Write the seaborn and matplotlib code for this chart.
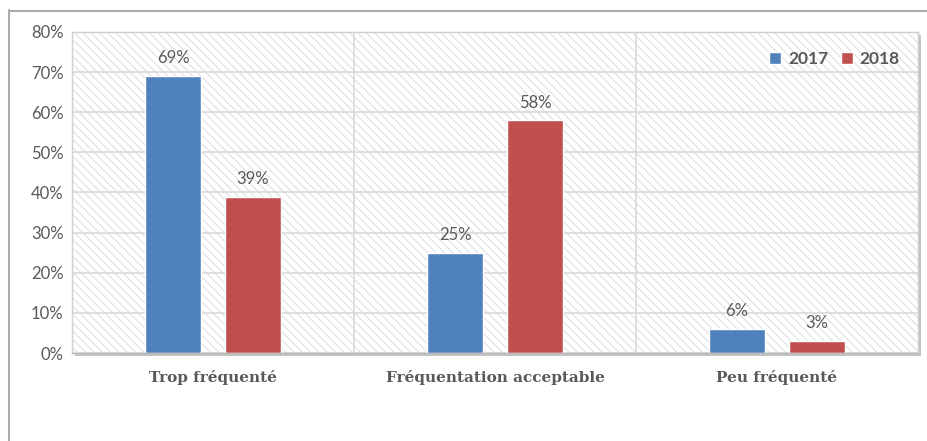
import matplotlib

matplotlib.use("Agg")

import matplotlib.pyplot as plt
import pandas as pd
import seaborn as sns
from matplotlib.lines import Line2D
from matplotlib.patches import Rectangle
from matplotlib.ticker import FuncFormatter

CATEGORIES = ["Trop fréquenté", "Fréquentation acceptable", "Peu fréquenté"]
YEARS = ["2017", "2018"]
VALUES_2017 = [69, 25, 6]
VALUES_2018 = [39, 58, 3]
Y_TICKS = [0, 10, 20, 30, 40, 50, 60, 70, 80]

COLORS = {"2017": "#4F81BD", "2018": "#C0504D"}
TEXT = "#595959"
GRID = "#d9d9d9"

W, H = 928, 441

sns.set_theme(style="white")
plt.rcParams["font.family"] = ["Lato", "DejaVu Sans"]
plt.rcParams["hatch.linewidth"] = 0.6

df = pd.DataFrame(
    {
        "categorie": CATEGORIES * 2,
        "annee": [YEARS[0]] * len(CATEGORIES) + [YEARS[1]] * len(CATEGORIES),
        "valeur": VALUES_2017 + VALUES_2018,
    }
)

fig = plt.figure(figsize=(W / 100, H / 100), dpi=100)
x0, x1, y0, y1 = 72, 918, 353, 32
ax = fig.add_axes([x0 / W, 1 - y0 / H, (x1 - x0) / W, (y0 - y1) / H])

# drop shadow behind the plot area
fig.patches.append(
    Rectangle(((x0 + 3) / W, 1 - (y0 + 3) / H), (x1 - x0) / W, (y0 - y1) / H,
              transform=fig.transFigure, facecolor="#c4c4c4", edgecolor="none", zorder=-1)
)
# outer chart frame (left and top edges visible)
fig.add_artist(Line2D([9.5 / W, 9.5 / W], [0, 1 - 10 / H], color="#ababab", lw=1.5))
fig.add_artist(Line2D([9 / W, 1], [1 - 10.5 / H, 1 - 10.5 / H], color="#ababab", lw=1.5))

# hatched plot background
ax.add_patch(Rectangle((0, 0), 1, 1, transform=ax.transAxes, facecolor="white",
                       edgecolor="#d6d6d6", hatch="\\\\\\\\", linewidth=0, zorder=0))

sns.barplot(data=df, x="categorie", y="valeur", hue="annee", order=CATEGORIES,
            hue_order=YEARS, palette=COLORS, width=0.567, gap=0.31,
            saturation=1, ax=ax, zorder=2)

for container in ax.containers:
    ax.bar_label(container, labels=[f"{v:.0f}%" for v in container.datavalues],
                 padding=7, fontsize=12, color=TEXT)

ax.set_ylim(0, 80)
ax.set_xlim(-0.5, len(CATEGORIES) - 0.5)
ax.set_yticks(Y_TICKS)
ax.yaxis.set_major_formatter(FuncFormatter(lambda v, _: f"{v:.0f}%"))
ax.grid(axis="y", color=GRID, lw=1.2)
ax.set_axisbelow(True)
for pos in [0.5, 1.5]:
    ax.axvline(pos, color=GRID, lw=1.2, zorder=1)

ax.tick_params(axis="y", length=0, pad=6, labelsize=12, labelcolor=TEXT)
ax.tick_params(axis="x", length=0, pad=12)
ax.set_xticks(range(len(CATEGORIES)))
ax.set_xticklabels(CATEGORIES, family="DejaVu Serif", fontweight="bold",
                   fontsize=11, color=TEXT)
ax.set_xlabel("")
ax.set_ylabel("")

for side, spine in ax.spines.items():
    spine.set_visible(True)
    spine.set_color("#d0d0d0")
    spine.set_linewidth(1.0)
ax.spines["bottom"].set_color("#b8b8b8")

leg = ax.legend(loc="upper right", bbox_to_anchor=(0.997, 0.99), ncol=2, frameon=False,
                handlelength=0.7, handleheight=0.7, handletextpad=0.4, columnspacing=0.7,
                prop={"weight": "bold", "size": 12.5})
for t in leg.get_texts():
    t.set_color(TEXT)

fig.savefig("out.png", dpi=100, facecolor="white")
